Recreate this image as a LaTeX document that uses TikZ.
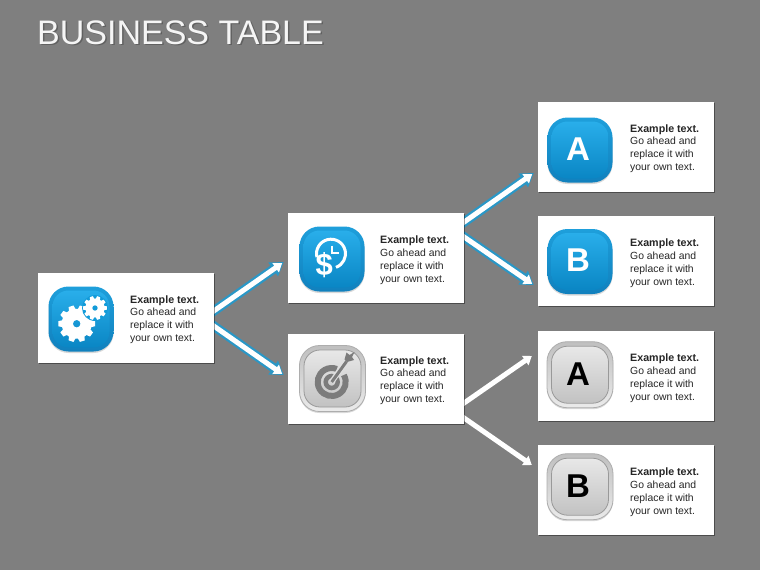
\documentclass[tikz,border=0pt]{standalone}
\usepackage{fontspec}
\setmainfont{Liberation Sans}
\usetikzlibrary{arrows.meta,backgrounds,shadows}
\definecolor{slide}{HTML}{7F7F7F}
\definecolor{outertop}{HTML}{1E9FDB}
\definecolor{outerbottom}{HTML}{1180BD}
\definecolor{innertop}{HTML}{29AEEA}
\definecolor{innermid}{HTML}{129BD9}
\definecolor{innerbottom}{HTML}{0A86C4}
\definecolor{edgeblue}{HTML}{2A97C6}
\definecolor{targetgrey}{HTML}{7C7C7C}
\tikzset{
  card/.style={rectangle,fill=white,minimum width=176pt,minimum height=90pt,inner sep=0pt,
    drop shadow={shadow xshift=.5pt,shadow yshift=-1.2pt,fill=black,opacity=.4}},
  bodytext/.style={anchor=west,inner sep=0pt,align=left,text=black!85,font=\fontsize{10.4}{12.8}\selectfont},
  blueouter/.style={rectangle,rounded corners=20pt,minimum size=65pt,inner sep=0pt,
    top color=outertop,bottom color=outerbottom,
    drop shadow={shadow xshift=0pt,shadow yshift=-1.5pt,fill=black,opacity=.15}},
  blueinner/.style={rectangle,rounded corners=16pt,minimum size=57pt,inner sep=0pt,
    top color=innertop,middle color=innermid,bottom color=innerbottom,
    text=white,font=\fontsize{33}{33}\selectfont\bfseries},
  greyouter/.style={rectangle,rounded corners=20pt,minimum size=66pt,inner sep=0pt,draw=black!32,line width=.8pt,
    top color=black!25,bottom color=black!8,
    drop shadow={shadow xshift=0pt,shadow yshift=-1.5pt,fill=black,opacity=.15}},
  greyinner/.style={rectangle,rounded corners=16pt,minimum size=57pt,inner sep=0pt,draw=black!40,line width=.8pt,
    top color=black!9,bottom color=black!24,
    text=black,font=\fontsize{33}{33}\selectfont\bfseries},
  bluearrow/.style={draw=edgeblue,line width=9.5pt,-{Triangle[length=13pt,width=16pt]}},
  whitearrow/.style={draw=white,line width=5pt,-{Triangle[length=8pt,width=11pt]}},
}
\newcommand{\gear}[6]{
  \begin{scope}[shift={(#1,#2)}]
    \fill[white,even odd rule] (-#6*.36:#4)
      \foreach \a in {0,#6,...,359}{
        -- (\a-#6*.36:#4) -- (\a-#6*.22:#3) -- (\a+#6*.22:#3) -- (\a+#6*.36:#4)
      } -- cycle (0,0) circle (#5);
  \end{scope}
}

\begin{document}
\begin{tikzpicture}[x=1pt,y=-1pt]
\useasboundingbox (0,0) rectangle (760,570);
\begin{scope}[on background layer]
\fill[slide] (0,0) rectangle (760,570);
\end{scope}
\node[anchor=base west,inner sep=0pt,text=black!62,font=\fontsize{34}{34}\selectfont] (titleshadow) at (38.5,45.5) {BUSINESS TABLE};
\node[anchor=base west,inner sep=0pt,text=white!96!black,font=\fontsize{34}{34}\selectfont] (title) at (37,44) {BUSINESS TABLE};
\foreach \n/\x/\y/\ix/\iy/\o/\u/\l in{
cardroot/126/317.5/81/319/blueouter/blueinner/{},
cardone/376/258/332/259/blueouter/blueinner/{},
cardtwo/376/378.5/332.5/378.5/greyouter/greyinner/{},
carda/626/146.5/580/150/blueouter/blueinner/{A},
cardb/626/261/580/261.5/blueouter/blueinner/{B},
cardc/626/376/580/374.7/greyouter/greyinner/{A},
cardd/626/490/580/486.7/greyouter/greyinner/{B}%
}
{
    \node[card] (\n) at (\x,\y) {};
    \node[bodytext] (text\n) at ([xshift=4pt,yshift=-2pt]\n.center) {{\fontsize{10.7}{12.8}\selectfont\bfseries Example text.}\\Go ahead and\\replace it with\\your own text.};
    \node[\o] (outer\n) at (\ix,\iy) {};
    \node[\u] (inner\n) at (outer\n.center) {\raisebox{-10.3pt}[0pt][0pt]{\makebox[0pt]{\kern-4pt\l}}};
}
\begin{scope}[on background layer]
\foreach \a/\ya/\b/\xb/\yb in{
cardroot/4.7/cardone/-4/-4,
cardroot/-6.7/cardtwo/-4/3.5,
cardone/33.9/carda/-4/-26.5,
cardone/23/cardb/-4/-24%
}
{
    \draw[bluearrow] ([xshift=-3pt,yshift=\ya pt]\a.east) -- ([xshift=\xb pt,yshift=\yb pt]\b.west);
    \draw[whitearrow,shorten >=2pt] ([xshift=-3pt,yshift=\ya pt]\a.east) -- ([xshift=\xb pt,yshift=\yb pt]\b.west);
}
\foreach \a/\ya/\b/\xb/\yb in{
cardtwo/-26.5/cardc/-6/20,
cardtwo/-37.5/cardd/-6/25%
}
{
    \draw[whitearrow] ([xshift=-3pt,yshift=\ya pt]\a.east) -- ([xshift=\xb pt,yshift=\yb pt]\b.west);
}
\end{scope}
\begin{scope}[shift={(outercardroot.center)}]
\gear{-4.3}{4.7}{18.5}{15}{3.8}{36}
\fill[innermid] (14,-11) circle (13);
\gear{14}{-11}{12}{9.5}{2.8}{36}
\end{scope}
\begin{scope}[shift={(outercardone.center)}]
\draw[white,line width=3pt] (-1,-5.3) ++(166:14.5) arc[start angle=166,end angle=430,radius=14.5];
\draw[white,line width=2.2pt] (0.3,-13.5) -- (0.3,-6.3) -- (7,-6.3);
\node[inner sep=0pt,text=white,font=\fontsize{31}{31}\selectfont\bfseries] (dollar) at (-7.7,6.3) {\$};
\end{scope}
\begin{scope}[shift={(outercardtwo.center)}]
\draw[targetgrey,line width=6pt] (-0.8,3.5) ++(-30:14) arc[start angle=-30,end angle=292,radius=14];
\draw[targetgrey,line width=4.5pt] (-0.8,3.5) circle (6);
\draw[black!12,line width=5.5pt] (-0.8,3.5) -- (13,-17);
\draw[targetgrey,line width=3pt] (-0.8,3.5) -- (14,-17);
\fill[targetgrey] (12,-19) -- (14,-26) -- (17,-23.5) -- (22,-26.5) -- (19.5,-21.5) -- (21.5,-18.5) -- (14.5,-16.5) -- cycle;
\end{scope}
\end{tikzpicture}
\end{document}
